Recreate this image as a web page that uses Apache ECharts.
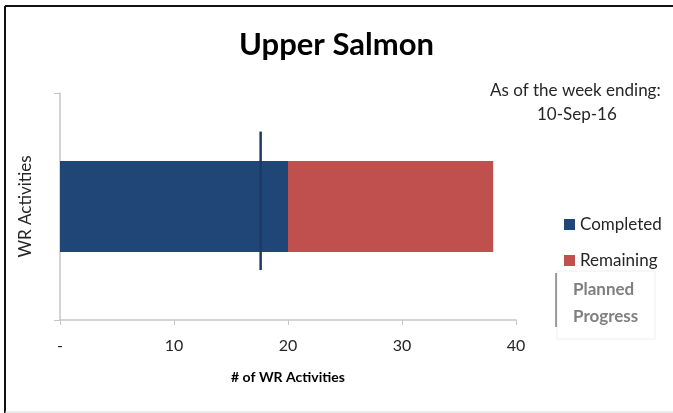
<!DOCTYPE html>
<html>
<head>
<meta charset="utf-8">
<script src="https://cdn.jsdelivr.net/npm/echarts@6/dist/echarts.min.js"></script>
<style>
  html, body { margin: 0; padding: 0; background: #fff; }
  #chart { width: 673px; height: 413px; }
</style>
</head>
<body>
<div id="chart"></div>
<script>
// data
const categories = ['WR'];
const completed = [20];
const remaining = [18];
const plannedProgress = [17.6];
const xTicks = [0, 10, 20, 30, 40];

const FONT = 'Lato, "Open Sans", sans-serif';
const chart = echarts.init(document.getElementById('chart'));

const option = {
    animation: false,
    backgroundColor: '#fff',
    title: {
        text: 'Upper Salmon',
        left: 'center',
        top: 24,
        textStyle: { fontFamily: FONT, fontSize: 31, fontWeight: 'bold', color: '#000' }
    },
    legend: {
        data: ['Completed', 'Remaining'],
        orient: 'vertical',
        left: 559,
        top: 211,
        itemWidth: 11,
        itemHeight: 11,
        itemGap: 19,
        icon: 'rect',
        textStyle: { fontFamily: FONT, fontSize: 17, color: '#262626' }
    },
    grid: { left: 60, right: 157, top: 93, bottom: 93 },
    xAxis: {
        type: 'value',
        min: xTicks[0],
        max: xTicks[xTicks.length - 1],
        interval: 10,
        name: '# of WR Activities',
        nameLocation: 'middle',
        nameGap: 50,
        nameTextStyle: { fontFamily: FONT, fontSize: 14, fontWeight: 'bold', color: '#000' },
        axisLine: { show: true, lineStyle: { color: '#c6c6c6', width: 1.5 } },
        axisTick: { show: true, length: 5, lineStyle: { color: '#c6c6c6' } },
        splitLine: { show: false },
        axisLabel: {
            fontFamily: FONT, fontSize: 16, color: '#262626', margin: 18,
            formatter: v => v === 0 ? '-' : String(v)
        }
    },
    yAxis: {
        type: 'category',
        data: categories,
        name: 'WR Activities',
        nameLocation: 'middle',
        nameGap: 26,
        nameTextStyle: { fontFamily: FONT, fontSize: 17, color: '#262626' },
        axisLine: { show: true, lineStyle: { color: '#c6c6c6', width: 1.5 } },
        axisTick: { show: true, length: 6, lineStyle: { color: '#c6c6c6' } },
        axisLabel: { show: false }
    },
    series: [
        {
            name: 'Completed',
            type: 'bar',
            stack: 'total',
            barWidth: '40%',
            itemStyle: { color: '#1f4677' },
            data: completed
        },
        {
            name: 'Remaining',
            type: 'bar',
            stack: 'total',
            itemStyle: { color: '#c0504d' },
            data: remaining
        },
        {
            name: 'Planned Progress',
            type: 'custom',
            z: 5,
            encode: { x: 0, y: 1 },
            data: plannedProgress.map((v, i) => [v, i]),
            renderItem: function (params, api) {
                const p = api.coord([api.value(0), api.value(1)]);
                const band = api.size([0, 1])[1];
                return {
                    type: 'line',
                    shape: { x1: p[0], y1: p[1] - band * 0.33, x2: p[0], y2: p[1] + band * 0.28 },
                    style: { stroke: '#1f3864', lineWidth: 2.5 }
                };
            }
        }
    ],
    graphic: [
        // outer frame (left and top dark, bottom faint)
        { type: 'line', shape: { x1: 5, y1: 6, x2: 5, y2: 413 }, style: { stroke: '#111', lineWidth: 2 } },
        { type: 'line', shape: { x1: 5, y1: 6, x2: 673, y2: 6 }, style: { stroke: '#111', lineWidth: 2 } },
        { type: 'line', shape: { x1: 5, y1: 412, x2: 673, y2: 412 }, style: { stroke: '#d9d9d9', lineWidth: 1 } },
        {
            type: 'text', left: 490, top: 82,
            style: { text: 'As of the week ending:', fontFamily: FONT, fontSize: 17, fill: '#262626' }
        },
        {
            type: 'text', left: 537, top: 106,
            style: { text: '10-Sep-16', fontFamily: FONT, fontSize: 17, fill: '#262626' }
        },
        // planned progress legend entry
        { type: 'rect', shape: { x: 557, y: 271, width: 98, height: 68 }, style: { fill: 'none', stroke: '#eeeeee', lineWidth: 1 } },
        { type: 'line', shape: { x1: 556, y1: 273, x2: 556, y2: 327 }, style: { stroke: '#404040', lineWidth: 1 } },
        {
            type: 'text', left: 573, top: 281,
            style: { text: 'Planned', fontFamily: FONT, fontSize: 17, fontWeight: 'bold', fill: '#7f7f7f' }
        },
        {
            type: 'text', left: 573, top: 308,
            style: { text: 'Progress', fontFamily: FONT, fontSize: 17, fontWeight: 'bold', fill: '#7f7f7f' }
        }
    ]
};

chart.setOption(option);
</script>
</body>
</html>
